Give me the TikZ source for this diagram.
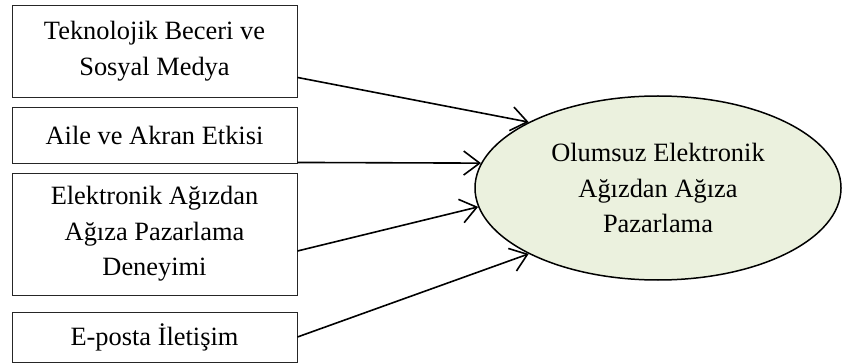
\documentclass[tikz,border=0pt]{standalone}
\usepackage{fontspec}
\setmainfont{Liberation Serif}
\usetikzlibrary{shapes.geometric,arrows.meta}
\definecolor{olivelight}{HTML}{EBF1DE}
\tikzset{
  factor/.style={draw=black!85,line width=0.9pt,minimum width=285pt,align=center,
    inner sep=0pt,font=\fontsize{26.4}{35.5}\selectfont},
  effect/.style={-{Straight Barb[length=16pt,width=24pt]},line width=1.6pt}
}
\begin{document}
\begin{tikzpicture}[x=1pt,y=-1pt]
        \useasboundingbox (0,0) rectangle (845,363);
        %% Factors
        \node[factor,minimum height=92pt] (tech) at (154.5,51) {Teknolojik Beceri ve\\Sosyal Medya};
        \node[factor,minimum height=56pt] (family) at (154.5,135) {Aile ve Akran Etkisi};
        \node[factor,minimum height=122pt] (experience) at (154.5,234) {Elektronik Ağızdan\\Ağıza Pazarlama\\Deneyimi};
        \node[factor,minimum height=50pt] (email) at (154.5,337) {E-posta İletişim};
        %% Outcome
        \node[ellipse,draw,line width=1.5pt,fill=olivelight,minimum width=366pt,minimum height=184pt,
          inner sep=0pt,align=center,font=\fontsize{26.4}{35.5}\selectfont] (outcome) at (658,188)
          {Olumsuz Elektronik\\Ağızdan Ağıza\\Pazarlama};
        %% Effects
        \draw[effect] ([yshift=20pt]tech.south east) -- (outcome.153);
        \draw[effect] ([yshift=1pt]family.south east) -- (outcome.172);
        \draw[effect] ([yshift=-17pt]experience.east) -- (outcome.186);
        \draw[effect] (email.east) -- (outcome.207);
    \end{tikzpicture}
\end{document}
